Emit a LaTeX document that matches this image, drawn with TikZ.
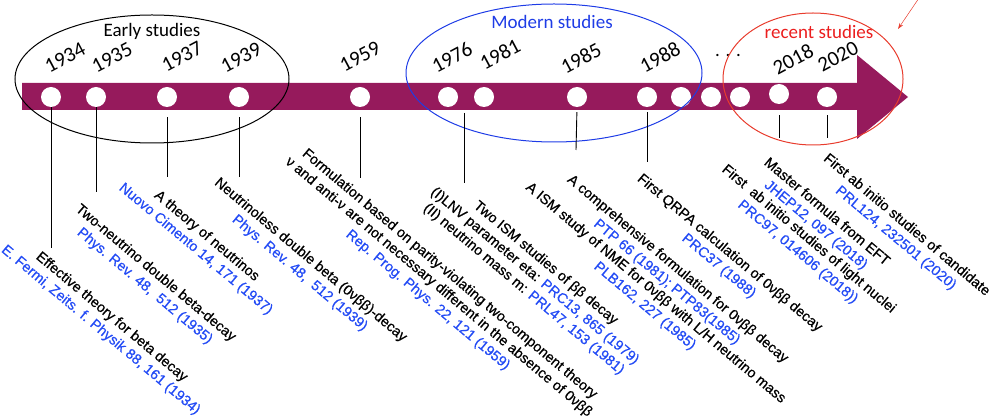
\documentclass[tikz,border=0pt]{standalone}
\usepackage{fontspec}
\setmainfont{Liberation Sans}
\newfontfamily\lblfont[FakeBold=0.6]{Liberation Sans}
\newfontfamily\calfont{Carlito}
\usetikzlibrary{calc,arrows.meta}

\definecolor{barcol}{RGB}{150,26,92}
\definecolor{refblue}{RGB}{35,75,245}
\definecolor{titleblue}{RGB}{30,60,230}
\definecolor{titlered}{RGB}{235,30,30}
\definecolor{ringred}{RGB}{232,60,45}

\def\refs#1{\textcolor{refblue}{#1}}

\tikzset{
	yeardot/.style={circle, fill=white, minimum size=20pt, inner sep=0pt},
	yearlabel/.style={rotate=28, font=\calfont\fontsize{21}{25}\selectfont},
	grouptitle/.style={font=\calfont\fontsize{19}{23}\selectfont},
	lbl/.style={rotate=-40, align=center, anchor=north, inner sep=0pt, font=\lblfont\fontsize{14.3}{17}\selectfont},
	stem/.style={line width=0.9pt}
}

\begin{document}
\begin{tikzpicture}[x=1pt, y=-1pt]
				\useasboundingbox (0,0) rectangle (995,419);
				
				\fill[barcol] (22,83) -- (857,83) -- (857,55) -- (908,97) -- (857,139) -- (857,110) -- (22,110) -- cycle;
				
				\node[yeardot] (d1934) at (51,97) {};
				\node[yeardot] (d1935) at (96,97) {};
				\node[yeardot] (d1937) at (167,97) {};
				\node[yeardot] (d1939) at (239,97) {};
				\node[yeardot] (d1959) at (360,97) {};
				\node[yeardot] (d1976) at (448,97) {};
				\node[yeardot] (d1981) at (484,97) {};
				\node[yeardot] (d1985) at (577,97) {};
				\node[yeardot] (d1988) at (647,97) {};
				\node[yeardot] (d1991) at (681,97) {};
				\node[yeardot] (d1994) at (711,97) {};
				\node[yeardot] (d1997) at (740,97) {};
				\node[yeardot] (d2018) at (779,94) {};
				\node[yeardot] (d2020) at (827,97) {};
				
				\node[yearlabel] (y1934) at (65,58) {1934};
				\node[yearlabel] (y1935) at (112,58) {1935};
				\node[yearlabel] (y1937) at (182,57) {1937};
				\node[yearlabel] (y1939) at (241,58) {1939};
				\node[yearlabel] (y1959) at (360,57) {1959};
				\node[yearlabel] (y1976) at (452,57) {1976};
				\node[yearlabel] (y1981) at (500,54) {1981};
				\node[yearlabel] (y1985) at (581,58) {1985};
				\node[yearlabel] (y1988) at (660,57) {1988};
				\node[grouptitle] (dots) at (728,56) {. . .};
				\node[yearlabel] (y2018) at (793,59) {2018};
				\node[yearlabel] (y2020) at (838,57) {2020};
				
				\draw[line width=1pt] (152,79) ellipse [x radius=137pt, y radius=64pt];
				\node[grouptitle] (early) at (152,31) {Early studies};
				\draw[titleblue, line width=1pt] (554,73) ellipse [x radius=148pt, y radius=69pt];
				\node[grouptitle, text=titleblue] (modern) at (552,22) {Modern studies};
				\draw[ringred, line width=1pt] (813,79) ellipse [x radius=90pt, y radius=66pt];
				\node[grouptitle, text=titlered] (recent) at (819,32) {recent studies};
				
				\coordinate (pin) at (919,-2);
				\coordinate (pinend) at (898,29);
				\draw[ringred, line width=0.5pt, -{Stealth[length=6pt, width=4pt]}] (pin) -- (pinend);
				
				% stems down to the labels
				\coordinate (e1934) at (51,248);
				\coordinate (e1935) at (96,192);
				\coordinate (e1937) at (167,177);
				\coordinate (e1939) at (239,177);
				\coordinate (e1959) at (360,178);
				\coordinate (s1976) at (464,113);
				\coordinate (e1976) at (464,183);
				\coordinate (e1985) at (576,150);
				\coordinate (e1988) at (647,162);
				\coordinate (e2018) at (779,138);
				\coordinate (e2020) at (827,138);
				\draw[stem] (d1934.south) -- (e1934);
				\draw[stem] (d1935.south) -- (e1935);
				\draw[stem, shorten <=10pt] (d1937.south) -- (e1937);
				\draw[stem, shorten <=10pt] (d1939.south) -- (e1939);
				\draw[stem, shorten <=10pt] (d1959.south) -- (e1959);
				\draw[stem] (s1976) -- (e1976);
				\draw[stem, shorten <=5pt] (d1985.south) -- (e1985);
				\draw[stem, shorten <=5pt] (d1988.south) -- (e1988);
				\draw[stem, shorten <=11pt] (d2018.south) -- (e2018);
				\draw[stem, shorten <=8pt] (d2020.south) -- (e2020);
				
				\node[lbl] (l1934) at (116,312) {Effective theory for beta decay\\\refs{E. Fermi, Zeits. f. Physik 88, 161 (1934)}};
				\node[lbl] (l1935) at (160,268) {Two-neutrino double beta-decay\\\refs{Phys. Rev. 48, \ 512 (1935)}};
				\node[lbl] (l1937) at (211,231) {A theory of neutrinos\\\refs{Nuovo Cimento 14, 171 (1937)}};
				\node[lbl] (l1939) at (315,255) {Neutrinoless double beta (0νββ)-decay\\\refs{Phys. Rev. 48, \ 512 (1939)}};
				\node[lbl] (l1959) at (454,269) {Formulation based on parity-violating two-component theory\\ν and anti-ν are not necessary different in the absence of 0νββ\\\refs{Rep. Prog. Phys. 22, 121 (1959)}};
				\node[lbl] (l1976) at (550,258) {Two ISM studies of ββ decay\\(I)LNV parameter eta: \refs{PRC13, 865 (1979)}\\(II) neutrino mass m: \refs{PRL47, 153 (1981)}};
				\node[lbl] (l1985a) at (660,288) {A ISM study of NME for 0νββ with L/H neutrino mass\\\refs{PLB162, 227 (1985)}};
				\node[lbl] (l1985b) at (682,264) {A comprehensive formulation for 0νββ decay\\\refs{PTP 66 (1981); PTP83(1985)}};
				\node[lbl] (l1988) at (734,248) {First QRPA calculation of 0νββ decay\\\refs{PRC37 (1988)}};
				\node[lbl] (l2018a) at (831,207) {Master formula from EFT\\\refs{JHEP12, 097 (2018)}};
				\node[lbl] (l2018b) at (813,234) {First \ ab initio studies of light nuclei\\\refs{PRC97, 014606 (2018))}};
				\node[lbl] (l2020) at (911,220) {First ab initio studies of candidate\\\refs{PRL124, 232501 (2020)}};
			\end{tikzpicture}
\end{document}
